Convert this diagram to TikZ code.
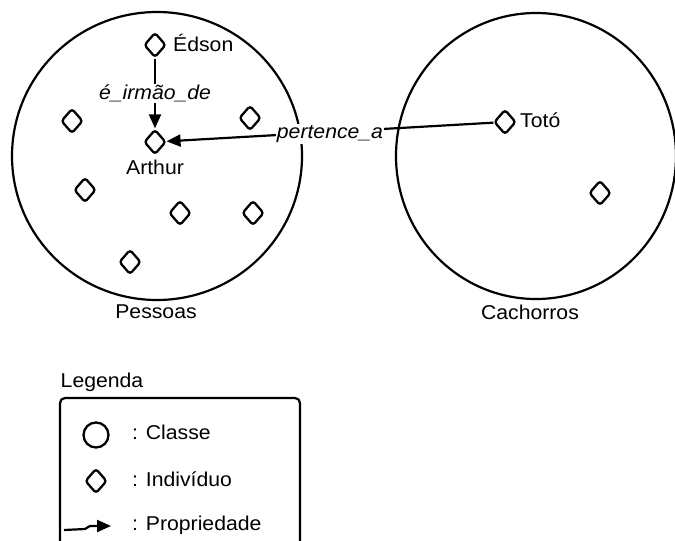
\documentclass[tikz,border=0pt]{standalone}
\usepackage{fontspec}
\setmainfont{Liberation Sans}[FakeStretch=1.06]
\usetikzlibrary{shapes.geometric,arrows.meta}
\begin{document}
\begin{tikzpicture}[x=1pt,y=-1pt,
  font=\fontsize{20}{23}\selectfont,
  indiv/.style={draw,shape=diamond,inner sep=0pt,minimum width=22pt,minimum height=25pt,rounded corners=3pt,line width=2.3pt},
  classe/.style={draw,line width=2.2pt},
  lbl/.style={inner sep=1pt},
  prop/.style={-{Triangle[length=14pt,width=12pt]},line width=2.2pt},
  onedge/.style={fill=white,inner sep=1pt,font=\fontsize{20}{23}\selectfont\itshape}]
\useasboundingbox (0,0) rectangle (675,541);

% classes
\draw[classe] (157,156) ellipse [x radius=145, y radius=144];
\draw[classe] (536,156) ellipse [x radius=140, y radius=143];
\node[lbl] (pessoas) at (156,312) {Pessoas};
\node[lbl] (cachorros) at (530,312) {Cachorros};

% individuals of Pessoas
\node[indiv] (edson) at (155,45) {};
\node[indiv] (arthur) at (155,142) {};
\node[indiv] (p1) at (72,121) {};
\node[indiv] (p2) at (250,118) {};
\node[indiv] (p3) at (85,190) {};
\node[indiv] (p4) at (180,213) {};
\node[indiv] (p5) at (253,213) {};
\node[indiv] (p6) at (130,262) {};
\node[lbl,anchor=west] (edsonL) at (172,43) {Édson};
\node[lbl] (arthurL) at (155,167) {Arthur};

% individuals of Cachorros
\node[indiv] (toto) at (505,122) {};
\node[indiv] (c1) at (600,193) {};
\node[lbl,anchor=west] (totoL) at (519,120) {Totó};

% properties
\draw[prop] (edson) -- node[onedge] {é\_irmão\_de} (arthur);
\draw[prop] (toto) -- node[onedge,pos=0.5,yshift=-2pt] {pertence\_a} (arthur);

% legend
\node[lbl] (legenda) at (102,382) {Legenda};
\draw[rounded corners=5pt,line width=2.2pt] (60,550) -- (60,398) -- (300,398) -- (300,550);
\node[draw,circle,minimum size=25pt,inner sep=0pt,line width=2.3pt] (lc) at (96,435) {};
\node[lbl,anchor=west] (lct) at (131,432) {: Classe};
\node[indiv] (li) at (96,481) {};
\node[lbl,anchor=west] (lit) at (131,479) {: Indivíduo};
\coordinate (la) at (64,530);
\coordinate (lb) at (85,529);
\coordinate (lc2) at (90,526);
\coordinate (ld) at (111,526);
\draw[prop] (la) -- (lb) -- (lc2) -- (ld);
\node[lbl,anchor=west] (lpt) at (131,525) {: Propriedade};
\end{tikzpicture}
\end{document}
